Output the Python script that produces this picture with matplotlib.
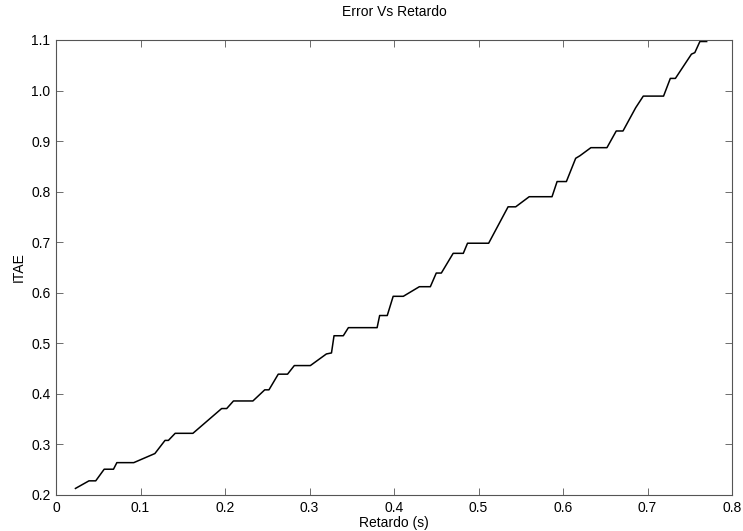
import matplotlib
matplotlib.use('Agg')
from matplotlib import pyplot as plt

# Error vs Retardo (ITAE)

retardo = [0.023, 0.039, 0.047, 0.057, 0.068, 0.072, 0.092, 0.117, 0.129, 0.133,
           0.141, 0.162, 0.196, 0.202, 0.210, 0.233, 0.247, 0.252, 0.263, 0.274,
           0.282, 0.301, 0.320, 0.326, 0.329, 0.340, 0.346, 0.380, 0.383, 0.392,
           0.399, 0.411, 0.430, 0.443, 0.450, 0.456, 0.470, 0.482, 0.487, 0.512,
           0.535, 0.544, 0.560, 0.587, 0.593, 0.604, 0.615, 0.620, 0.633, 0.652,
           0.663, 0.671, 0.686, 0.695, 0.719, 0.727, 0.733, 0.752, 0.756, 0.762,
           0.770]

itae = [0.213, 0.228, 0.228, 0.251, 0.251, 0.264, 0.264, 0.282, 0.308, 0.308,
        0.322, 0.322, 0.371, 0.371, 0.386, 0.386, 0.408, 0.408, 0.439, 0.439,
        0.456, 0.456, 0.479, 0.481, 0.515, 0.515, 0.531, 0.531, 0.555, 0.555,
        0.593, 0.593, 0.612, 0.612, 0.639, 0.639, 0.678, 0.678, 0.698, 0.698,
        0.770, 0.770, 0.790, 0.790, 0.820, 0.820, 0.866, 0.871, 0.887, 0.887,
        0.920, 0.920, 0.966, 0.989, 0.989, 1.024, 1.024, 1.072, 1.075, 1.097,
        1.097]

xticks = [0, 0.1, 0.2, 0.3, 0.4, 0.5, 0.6, 0.7, 0.8]
xtick_labels = ['0', '0.1', '0.2', '0.3', '0.4', '0.5', '0.6', '0.7', '0.8']
yticks = [0.2, 0.3, 0.4, 0.5, 0.6, 0.7, 0.8, 0.9, 1.0, 1.1]
ytick_labels = ['0.2', '0.3', '0.4', '0.5', '0.6', '0.7', '0.8', '0.9', '1.0', '1.1']

plt.rcParams['font.family'] = ['Liberation Sans', 'DejaVu Sans']

fig = plt.figure(figsize=(7.43, 5.31), dpi=100)
ax = fig.add_axes([0.0754, 0.0678, 0.9098, 0.8569])

ax.plot(retardo, itae, color='black', linewidth=1.1)

ax.set_xlim(0, 0.8)
ax.set_ylim(0.2, 1.1)
ax.set_xticks(xticks)
ax.set_xticklabels(xtick_labels)
ax.set_yticks(yticks)
ax.set_yticklabels(ytick_labels)
ax.tick_params(direction='in', top=True, right=True, length=5, width=0.6,
               color='#555555', labelsize=10, pad=4)
for s in ax.spines.values():
    s.set_color('#555555')
    s.set_linewidth(0.8)

ax.set_title('Error Vs Retardo', fontsize=10, pad=17)
ax.set_xlabel('Retardo (s)', fontsize=10, labelpad=1)
ax.set_ylabel('ITAE', fontsize=10, labelpad=4)

fig.savefig('out.png', dpi=100)
